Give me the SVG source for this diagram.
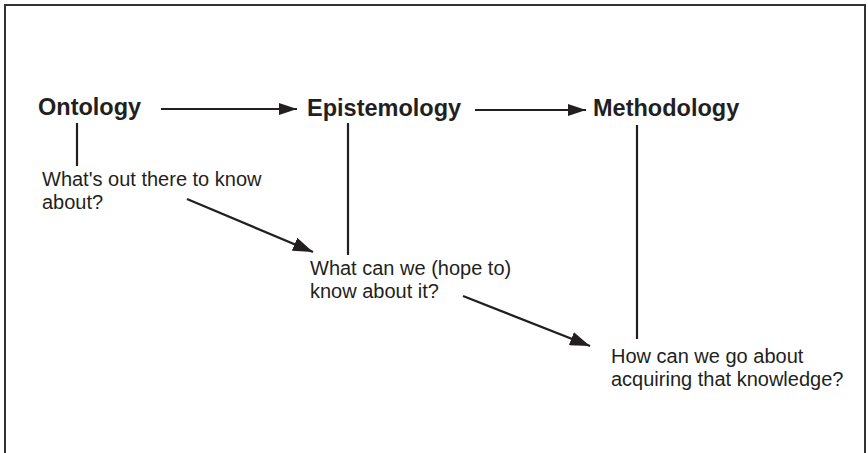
<svg xmlns="http://www.w3.org/2000/svg" width="868" height="453" viewBox="0 0 868 453">
<style>
.h{font-family:"Liberation Sans",Arial,sans-serif;font-weight:bold;font-size:23.5px;fill:#231f20}
.t{font-family:"Liberation Sans",Arial,sans-serif;font-size:20px;fill:#231f20}
.c{stroke:#231f20;stroke-width:2.2;fill:none}
</style>
<defs>
<marker id="ah" viewBox="0 0 18 12" refX="18" refY="6" markerWidth="18" markerHeight="12" markerUnits="userSpaceOnUse" orient="auto">
<path d="M0,0 L18,6 L0,12 z" fill="#231f20"/>
</marker>
<marker id="ahd" viewBox="0 0 20 14" refX="20" refY="7" markerWidth="20" markerHeight="14" markerUnits="userSpaceOnUse" orient="auto">
<path d="M0,0 L20,7 L0,14 z" fill="#231f20"/>
</marker>
</defs>
<rect x="5" y="5" width="860" height="470" fill="#fff" stroke="#333" stroke-width="2"/>
<g id="connectors">
<line class="c" x1="161" y1="109" x2="297" y2="109" marker-end="url(#ah)"/>
<line class="c" x1="475" y1="110" x2="586" y2="110" marker-end="url(#ah)"/>
<line class="c" x1="77" y1="123" x2="77" y2="166"/>
<line class="c" x1="348" y1="123" x2="348" y2="255"/>
<line class="c" x1="637" y1="125" x2="637" y2="339"/>
<line class="c" x1="187" y1="199" x2="313" y2="252" marker-end="url(#ahd)"/>
<line class="c" x1="463" y1="296" x2="590" y2="346" marker-end="url(#ahd)"/>
</g>
<g id="ontology"><text class="h" x="38" y="115">Ontology</text></g>
<g id="epistemology"><text class="h" x="307" y="116">Epistemology</text></g>
<g id="methodology"><text class="h" x="593" y="116">Methodology</text></g>
<g id="q1"><text class="t" x="42" y="186">What's out there to know</text><text class="t" x="42" y="209">about?</text></g>
<g id="q2"><text class="t" x="310" y="275">What can we (hope to)</text><text class="t" x="310" y="298">know about it?</text></g>
<g id="q3"><text class="t" x="611" y="363">How can we go about</text><text class="t" x="611" y="386">acquiring that knowledge?</text></g>
</svg>
